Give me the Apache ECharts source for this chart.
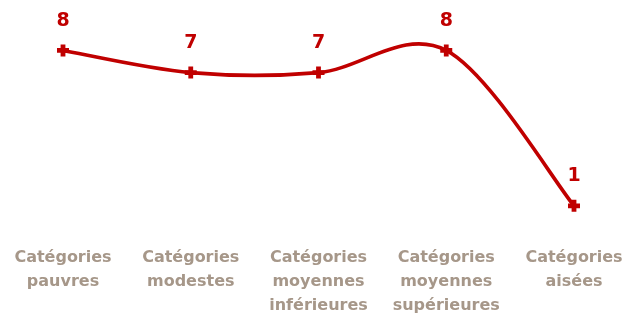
<!DOCTYPE html>
<html>
<head>
<meta charset="utf-8">
<script src="https://cdn.jsdelivr.net/npm/echarts@6/dist/echarts.min.js"></script>
<style>
  html, body { margin: 0; padding: 0; background: #fff; }
  #chart { width: 631px; height: 315px; }
</style>
</head>
<body>
<div id="chart"></div>
<script>
const categories = [
  "Catégories\npauvres",
  "Catégories\nmodestes",
  "Catégories\nmoyennes\ninférieures",
  "Catégories\nmoyennes\nsupérieures",
  "Catégories\naisées"
];
const values = [8, 7, 7, 8, 1];

const RED = "#C00000";

// smooth curve in the style of a spreadsheet chart (Catmull-Rom through the points)
function renderCurve(params, api) {
  const pts = values.map((v, i) => api.coord([i, v]));
  const n = pts.length;
  let d = "M" + pts[0][0] + "," + pts[0][1];
  for (let i = 0; i < n - 1; i++) {
    const p0 = pts[Math.max(i - 1, 0)];
    const p1 = pts[i];
    const p2 = pts[i + 1];
    const p3 = pts[Math.min(i + 2, n - 1)];
    const c1 = [p1[0] + (p2[0] - p0[0]) / 6, p1[1] + (p2[1] - p0[1]) / 6];
    const c2 = [p2[0] - (p3[0] - p1[0]) / 6, p2[1] - (p3[1] - p1[1]) / 6];
    d += " C" + c1.join(",") + " " + c2.join(",") + " " + p2.join(",");
  }
  return {
    type: "path",
    shape: { pathData: d },
    style: { fill: "none", stroke: RED, lineWidth: 3.6 }
  };
}

const chart = echarts.init(document.getElementById("chart"));
chart.setOption({
  animation: false,
  grid: { left: 63, right: 57, top: 6, bottom: 87, outerBoundsMode: "none", containLabel: false },
  xAxis: {
    type: "category",
    data: categories,
    boundaryGap: false,
    axisLine: { show: false },
    axisTick: { show: false },
    axisLabel: {
      interval: 0,
      margin: 18,
      color: "#A69789",
      fontFamily: "DejaVu Sans",
      fontWeight: "bold",
      fontSize: 16,
      lineHeight: 24
    }
  },
  yAxis: {
    type: "value",
    min: 0,
    max: 10,
    show: false,
    splitLine: { show: false }
  },
  series: [
    {
      type: "custom",
      data: [0],
      z: 1,
      silent: true,
      renderItem: renderCurve
    },
    {
      type: "line",
      data: values,
      z: 3,
      lineStyle: { width: 0, opacity: 0 },
      itemStyle: { color: RED },
      symbol: "path://M3,0 H7 V3 H10 V7 H7 V10 H3 V7 H0 V3 H3 Z",
      symbolSize: 12,
      label: {
        show: true,
        position: "top",
        distance: 14,
        color: RED,
        fontFamily: "DejaVu Sans",
        fontWeight: "bold",
        fontSize: 19
      }
    }
  ]
});
</script>
</body>
</html>
